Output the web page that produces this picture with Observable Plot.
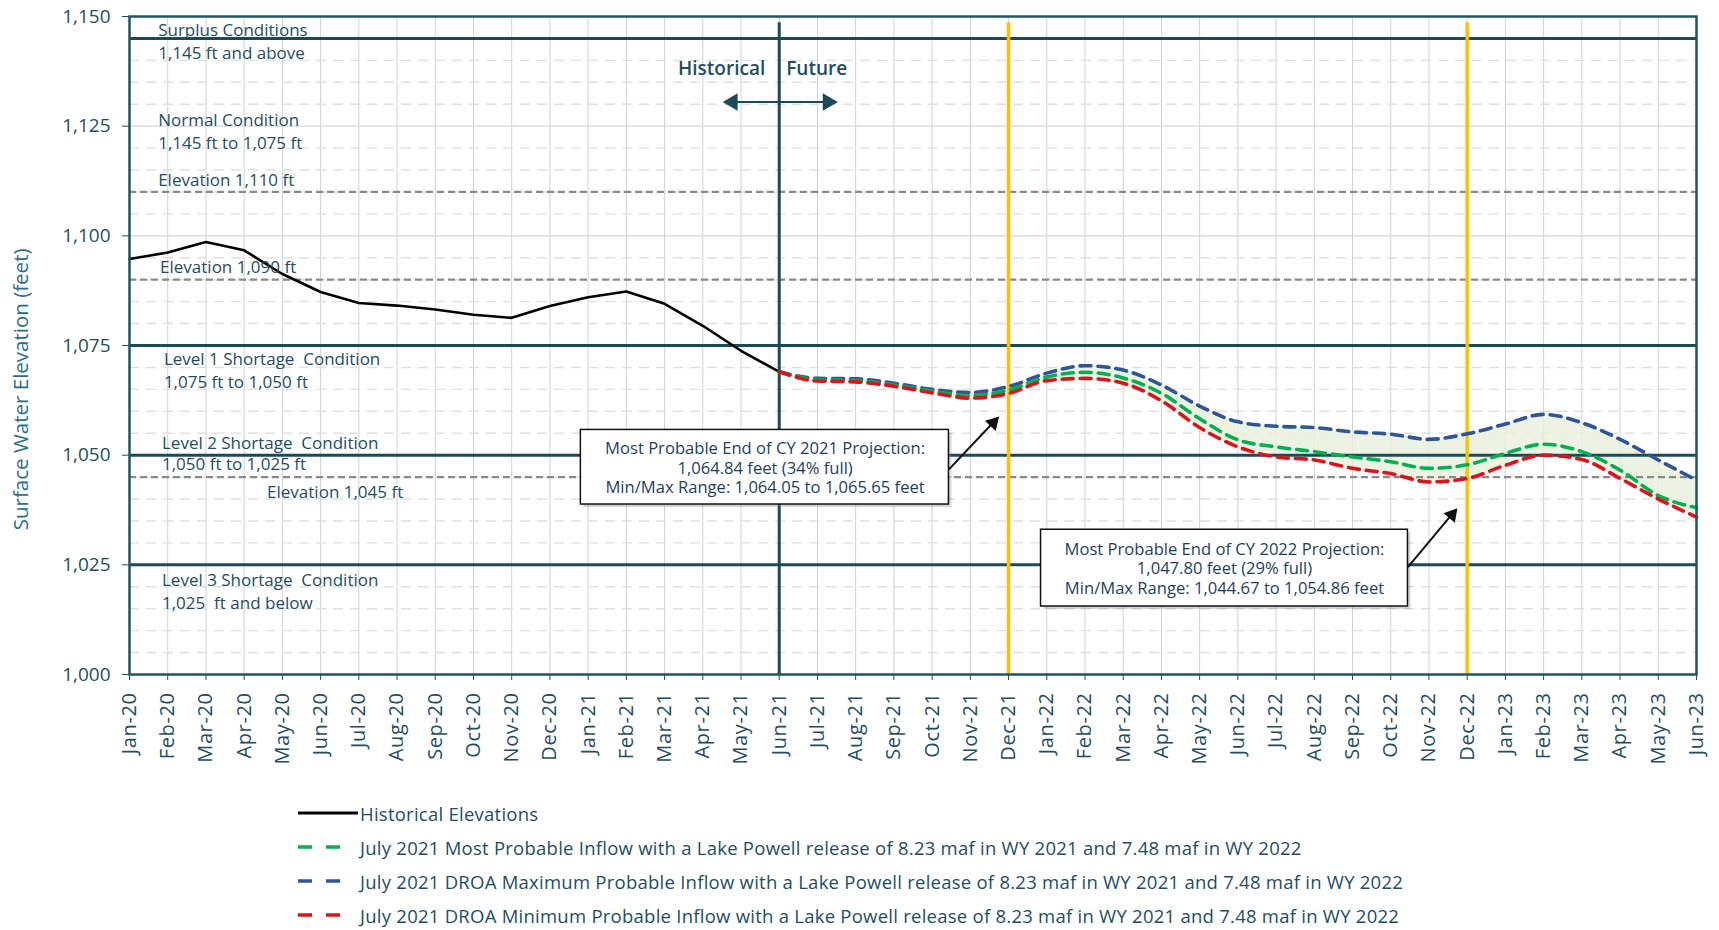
<!DOCTYPE html>
<html><head><meta charset="utf-8">
<script src="https://cdn.jsdelivr.net/npm/d3@7"></script>
<script src="https://cdn.jsdelivr.net/npm/@observablehq/plot@0.6"></script>
<style>
html,body{margin:0;padding:0;background:#fff;overflow:hidden;}
#chart svg text{white-space:pre;}
#chart svg g[aria-label="x-axis tick label"] text{letter-spacing:0.6px;}
#legend{font-family:"Open Sans",sans-serif;font-size:18.5px;letter-spacing:0.25px;color:#1f4e5f;}
#legend .row{height:34px;display:flex;align-items:center;padding-left:298px;}
#legend .row svg{width:60px;height:10px;margin-right:2px;flex:none;}
</style></head>
<body><div id="chart"></div><div id="legend"></div>
<script>
// ---- data ----
const months = ["Jan-20","Feb-20","Mar-20","Apr-20","May-20","Jun-20","Jul-20","Aug-20","Sep-20","Oct-20","Nov-20","Dec-20",
  "Jan-21","Feb-21","Mar-21","Apr-21","May-21","Jun-21","Jul-21","Aug-21","Sep-21","Oct-21","Nov-21","Dec-21",
  "Jan-22","Feb-22","Mar-22","Apr-22","May-22","Jun-22","Jul-22","Aug-22","Sep-22","Oct-22","Nov-22","Dec-22",
  "Jan-23","Feb-23","Mar-23","Apr-23","May-23","Jun-23"];
const historical = [1094.7,1096.2,1098.6,1096.7,1091.3,1087.2,1084.7,1084.1,1083.2,1082.0,1081.3,1084.0,
  1086.0,1087.3,1084.5,1079.5,1073.8,1069.0];
const projMost = [1069.0,1067.2,1067.0,1066.0,1064.6,1063.6,1064.84,1067.8,1068.9,1067.6,1064.1,1058.3,1053.5,
  1051.9,1050.8,1049.6,1048.5,1047.0,1047.80,1050.4,1052.5,1050.8,1046.6,1040.8,1038.0];
const projMax = [1069.0,1067.5,1067.4,1066.4,1065.0,1064.3,1065.65,1068.7,1070.4,1069.4,1066.0,1061.2,1057.6,
  1056.6,1056.3,1055.3,1054.8,1053.6,1054.86,1057.1,1059.3,1057.4,1053.6,1048.9,1044.3];
const projMin = [1069.0,1066.9,1066.7,1065.7,1064.2,1063.0,1064.05,1067.0,1067.5,1066.4,1062.4,1056.3,1051.9,
  1049.6,1048.9,1047.0,1045.8,1043.9,1044.67,1047.7,1050.0,1049.0,1044.7,1040.0,1035.9];
const yTicks = [1000,1025,1050,1075,1100,1125,1150];
const thresholds = [1145,1075,1050,1025];
const elevationLines = [1110,1090,1045];
const zoneLabels = ["Surplus Conditions","1,145 ft and above","Normal Condition","1,145 ft to 1,075 ft","Elevation 1,110 ft",
  "Elevation 1,090 ft","Level 1 Shortage  Condition","1,075 ft to 1,050 ft","Level 2 Shortage  Condition","1,050 ft to 1,025 ft",
  "Elevation 1,045 ft","Level 3 Shortage  Condition","1,025  ft and below"];
const zoneLabelY = [1146.75,1141.5,1126.25,1121,1112.5,1092.75,1071.75,1066.5,1052.75,1047.75,1041.5,1021.5,1016.25];
const zoneLabelX = [0.75,0.75,0.75,0.75,0.75,0.8,0.9,0.9,0.85,0.85,3.6,0.85,0.85];
const box1Text = "Most Probable End of CY 2021 Projection:\n1,064.84 feet (34% full)\nMin/Max Range: 1,064.05 to 1,065.65 feet";
const box2Text = "Most Probable End of CY 2022 Projection:\n1,047.80 feet (29% full)\nMin/Max Range: 1,044.67 to 1,054.86 feet";
const yTitle = "Surface Water Elevation (feet)";
const legendLabels = ["Historical Elevations",
  "July 2021 Most Probable Inflow with a Lake Powell release of 8.23 maf in WY 2021 and 7.48 maf in WY 2022",
  "July 2021 DROA Maximum Probable Inflow with a Lake Powell release of 8.23 maf in WY 2021 and 7.48 maf in WY 2022",
  "July 2021 DROA Minimum Probable Inflow with a Lake Powell release of 8.23 maf in WY 2021 and 7.48 maf in WY 2022"];
const seriesColors = ["#000000","#00b050","#2f5597","#d9141b"];

// ---- tables ----
const iJun21 = months.indexOf("Jun-21");
const iDec21 = months.indexOf("Dec-21");
const iDec22 = months.indexOf("Dec-22");
const hist = historical.map((v,i)=>({i, v}));
const proj = projMost.map((v,k)=>({i:iJun21+k, most:v, max:projMax[k], min:projMin[k]}));
const zones = zoneLabels.map((t,k)=>({t, x:zoneLabelX[k], y:zoneLabelY[k]}));
const minorGrid = d3.range(1005,1150,5).filter(v=>v%25!==0);
const majorGrid = yTicks.filter(v=>!thresholds.includes(v) && v>1000 && v<1150);

const teal = "#1b4b5a";
const txt = "#1f4e5f";
const boxTxt = "#1f3f5c";
const dash = "11,7";

const chart = Plot.plot({
  width:1719, height:796,
  marginLeft:129, marginRight:23, marginTop:16, marginBottom:122,
  style:{fontFamily:'"Open Sans", sans-serif', fontSize:"16px", color:txt, background:"#fff", overflow:"visible"},
  x:{type:"linear", domain:[0, months.length-1], ticks:d3.range(months.length), tickFormat:i=>months[i],
     tickRotate:-90, tickSize:6, tickPadding:12, label:null},
  y:{domain:[1000,1150], ticks:yTicks, tickFormat:d3.format(","), tickSize:7, tickPadding:12, label:null},
  marks:[
    Plot.ruleX(d3.range(1, months.length-1), {stroke:"#d2d2d2", strokeWidth:1}),
    Plot.ruleY(minorGrid, {stroke:"#e0e0e0", strokeWidth:1.4, strokeDasharray:"10,7"}),
    Plot.ruleY(majorGrid, {stroke:"#d6d6d6", strokeWidth:1.2}),
    Plot.areaY(proj, {x:"i", y1:"min", y2:"max", fill:"#e8f0dc", fillOpacity:0.8, curve:"monotone-x"}),
    Plot.ruleY(elevationLines, {stroke:"#8a8a8a", strokeWidth:2.2, strokeDasharray:"7,4"}),
    Plot.ruleY(thresholds, {stroke:teal, strokeWidth:3}),
    Plot.ruleX([iJun21], {y1:1000, y2:1148.6, stroke:teal, strokeWidth:3}),
    Plot.ruleX([iDec21, iDec22], {y1:1000, y2:1148.6, stroke:"#ffc000", strokeWidth:3.5}),
    Plot.line(hist, {x:"i", y:"v", stroke:seriesColors[0], strokeWidth:2.6, curve:"linear"}),
    Plot.line(proj, {x:"i", y:"max", stroke:seriesColors[2], strokeWidth:3.6, strokeDasharray:dash, curve:"monotone-x"}),
    Plot.line(proj, {x:"i", y:"most", stroke:seriesColors[1], strokeWidth:3.6, strokeDasharray:dash, curve:"monotone-x"}),
    Plot.line(proj, {x:"i", y:"min", stroke:seriesColors[3], strokeWidth:3.6, strokeDasharray:dash, curve:"monotone-x"}),
    Plot.frame({stroke:"#1f5566", strokeWidth:2.5}),
    // zone labels
    Plot.text(zones, {x:"x", y:"y", text:"t", textAnchor:"start", fill:txt, fontSize:17}),
    // historical / future
    Plot.text(["Historical"], {x:()=>iJun21, y:()=>1138, dx:-14, textAnchor:"end", fill:txt, fontSize:19, fontWeight:600}),
    Plot.text(["Future"], {x:()=>iJun21, y:()=>1138, dx:7, textAnchor:"start", fill:txt, fontSize:19, fontWeight:600}),
    Plot.ruleY([1130.5], {x1:iJun21-1.15, x2:iJun21+1.2, stroke:teal, strokeWidth:2}),
    Plot.dot([{x:iJun21-1.22, r:-90},{x:iJun21+1.27, r:90}], {x:"x", y:()=>1130.5, symbol:"triangle", r:5.5, rotate:"r", fill:teal, stroke:teal}),
    // annotation boxes
    Plot.rect([0], {x1:11.81, x2:21.44, y1:1038.75, y2:1055.75, dx:3, dy:3, fill:"#888", fillOpacity:0.35}),
    Plot.rect([0], {x1:11.81, x2:21.44, y1:1038.75, y2:1055.75, fill:"#fff", stroke:"#111", strokeWidth:1.5}),
    Plot.text([box1Text], {x:()=>16.63, y:()=>1047.25, fill:boxTxt, fontSize:16.6, lineHeight:1.18}),
    Plot.link([0], {x1:21.44, y1:1046.75, x2:22.55, y2:1057.0, stroke:"#111", strokeWidth:2}),
    Plot.dot([0], {x:()=>22.6, y:()=>1057.4, symbol:"triangle", r:5.5, rotate:44, fill:"#111"}),
    Plot.rect([0], {x1:23.85, x2:33.45, y1:1015.5, y2:1033, dx:3, dy:3, fill:"#888", fillOpacity:0.35}),
    Plot.rect([0], {x1:23.85, x2:33.45, y1:1015.5, y2:1033, fill:"#fff", stroke:"#111", strokeWidth:1.5}),
    Plot.text([box2Text], {x:()=>28.65, y:()=>1024.25, fill:boxTxt, fontSize:16.6, lineHeight:1.18}),
    Plot.link([0], {x1:33.45, y1:1024.5, x2:34.55, y2:1036.0, stroke:"#111", strokeWidth:2}),
    Plot.dot([0], {x:()=>34.6, y:()=>1036.4, symbol:"triangle", r:5.5, rotate:40, fill:"#111"}),
    // y title
    Plot.text([yTitle], {y:()=>1065, frameAnchor:"left", dx:-108, rotate:-90, textAnchor:"middle", fill:"#2b6f83", fontSize:20.5})
  ]
});
// tick label sizes
chart.querySelectorAll('g[aria-label="x-axis tick label"]').forEach(g=>g.setAttribute("font-size","20"));
chart.querySelectorAll('g[aria-label="y-axis tick label"]').forEach(g=>g.setAttribute("font-size","19"));
document.getElementById("chart").appendChild(chart);

// ---- legend ----
const leg = document.getElementById("legend");
legendLabels.forEach((label,k)=>{
  const row = document.createElement("div");
  row.className = "row";
  const line = k===0
    ? `<line x1="0" y1="5" x2="60" y2="5" stroke="${seriesColors[k]}" stroke-width="3"/>`
    : `<line x1="0" y1="5" x2="42" y2="5" stroke="${seriesColors[k]}" stroke-width="3.5" stroke-dasharray="14,14"/>`;
  row.innerHTML = `<svg viewBox="0 0 60 10">${line}</svg><span>${label}</span>`;
  leg.appendChild(row);
});
</script></body></html>
